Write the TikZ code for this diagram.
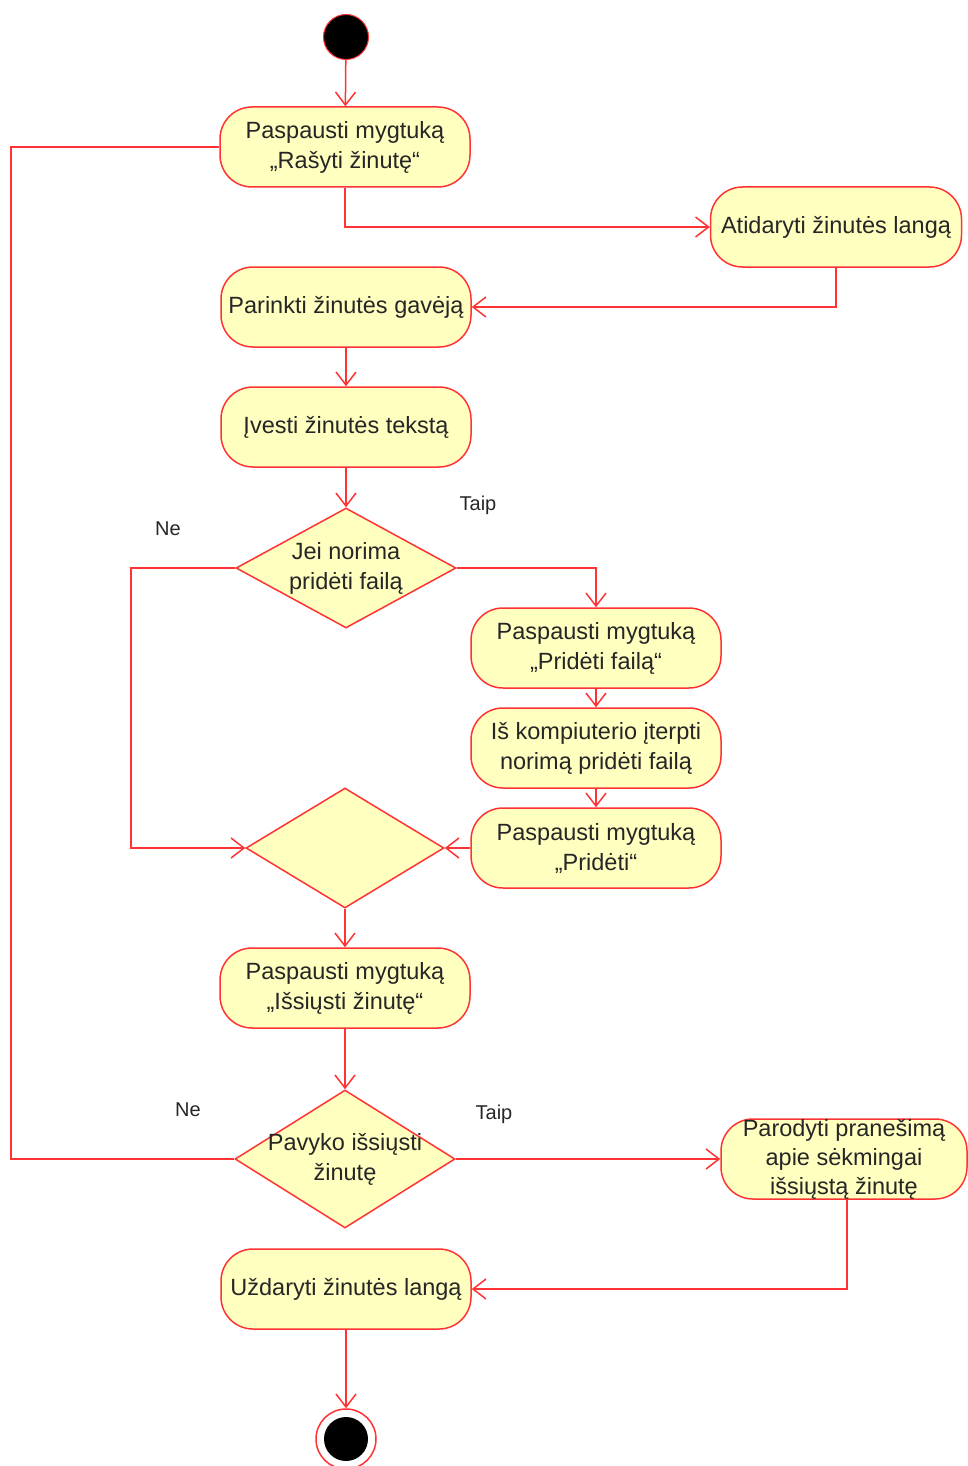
\documentclass[tikz,border=0pt]{standalone}
\usepackage{fontspec}
\setmainfont{Liberation Sans}
\usetikzlibrary{arrows.meta,shapes.geometric}
\definecolor{lineRed}{HTML}{FF3333}
\definecolor{fillY}{HTML}{FFFFC0}
\definecolor{txt}{HTML}{262626}
\begin{document}
\begin{tikzpicture}[x=1pt,y=-1pt,
  every node/.style={text=txt},
  act/.style={draw=lineRed, fill=fillY, rounded corners=32pt, minimum width=250pt, minimum height=80pt, inner sep=0pt, align=center, line width=1.5pt, font=\fontsize{23.5}{30}\selectfont},
  dec/.style={diamond, draw=lineRed, fill=fillY, inner sep=0pt, line width=1.5pt},
  dtext/.style={align=center, font=\fontsize{23.5}{30}\selectfont},
  lbl/.style={font=\fontsize{20}{24}\selectfont},
  conn/.style={draw=lineRed, line width=1.5pt},
  arr/.style={conn, -{Straight Barb[length=13pt,width=20pt]}}
]
\useasboundingbox (0,0) rectangle (968,1466);

\node[circle, fill=black, draw=lineRed, line width=1pt, minimum size=45pt, inner sep=0pt] (start) at (346,37) {};

\node[act] (b1) at (345,147) {Paspausti mygtuką\\„Rašyti žinutę“};
\node[act, minimum width=251pt] (b2) at (836,227) {Atidaryti žinutės langą};
\node[act] (b3) at (346,307) {Parinkti žinutės gavėją};
\node[act] (b4) at (346,427) {Įvesti žinutės tekstą};

\node[dec, minimum width=220pt, minimum height=120pt] (d1) at (346,568) {};
\node[dtext] at (d1.center) {Jei norima\\pridėti failą};
\node[lbl] (taip1) at (478,505) {Taip};
\node[lbl] (ne1) at (168,529) {Ne};

\node[act] (b5) at (596,648) {Paspausti mygtuką\\„Pridėti failą“};
\node[act] (b6) at (596,748) {Iš kompiuterio įterpti\\norimą pridėti failą};
\node[act] (b7) at (596,848) {Paspausti mygtuką\\„Pridėti“};

\node[dec, minimum width=198pt, minimum height=120pt] (d2) at (345,848) {};

\node[act] (b8) at (345,988) {Paspausti mygtuką\\„Išsiųsti žinutę“};

\node[dec, minimum width=220pt, minimum height=138pt] (d3) at (345,1159) {};
\node[dtext] at (d3.center) {Pavyko išsiųsti\\žinutę};
\node[lbl] (ne2) at (188,1110) {Ne};
\node[lbl] (taip2) at (494,1114) {Taip};

\node[act, minimum width=246pt, font=\fontsize{23.5}{29}\selectfont] (b9) at (844,1159) {Parodyti pranešimą\\apie sėkmingai\\išsiųstą žinutę};

\node[act] (b10) at (346,1289) {Uždaryti žinutės langą};

\node[circle, draw=lineRed, fill=white, line width=1.5pt, minimum size=60pt, inner sep=0pt] (end) at (346,1439) {};
\fill[black] (end.center) circle (22);

\coordinate (c1) at (131,568);
\coordinate (c2) at (11,1159);

\draw[arr] (start) -- (b1);
\draw[arr] (b1.south) |- (b2.west);
\draw[arr] (b2.south) |- (b3.east);
\draw[arr] (b3) -- (b4);
\draw[arr] (b4) -- (d1);
\draw[arr] (d1.east) -| (b5.north);
\draw[arr] (b5) -- (b6);
\draw[arr] (b6) -- (b7);
\draw[arr] (b7.west) -- (d2.east);
\draw[arr] (d1.west) -- (c1) |- (d2.west);
\draw[arr] (d2) -- (b8);
\draw[arr] (b8) -- (d3);
\draw[arr] (d3.east) -- (b9.west);
\draw[conn] (d3.west) -- (c2) |- (b1.west);
\draw[arr] ([xshift=3pt]b9.south) |- (b10.east);
\draw[arr] (b10) -- (end);
\end{tikzpicture}
\end{document}
